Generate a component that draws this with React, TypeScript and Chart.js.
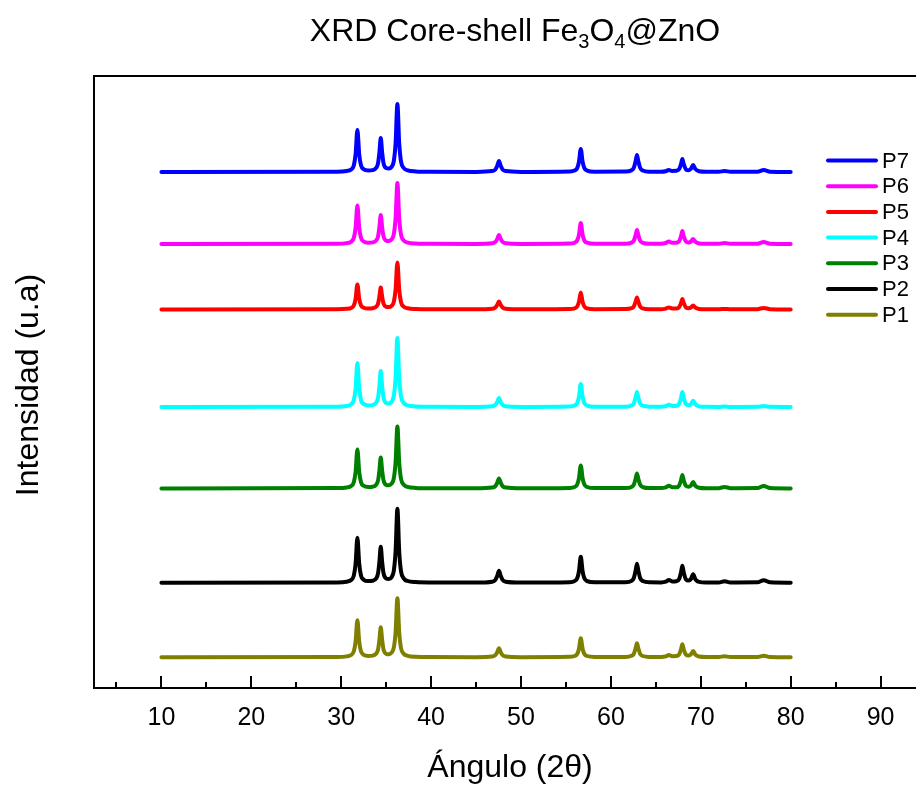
import React, { useEffect, useRef } from 'react';
import { Chart, registerables } from 'chart.js';

Chart.register(...registerables);

// ---- Data ----
// 2θ angles shared by every pattern
const angles = [
  10, 29.5, 30.6, 31.1, 31.4, 31.6, 31.8, 32.0, 32.2, 32.5,
  33.0, 33.5, 33.9, 34.1, 34.25, 34.4, 34.55, 34.7, 35.0, 35.3,
  35.6, 35.85, 36.05, 36.25, 36.45, 36.65, 36.95, 37.4, 38.3, 40,
  45, 46.8, 47.15, 47.35, 47.55, 47.75, 47.95, 48.3, 50,
  55.4, 55.95, 56.25, 56.45, 56.65, 56.85, 57.05, 57.35, 58.2,
  61.6, 62.3, 62.55, 62.75, 62.9, 63.05, 63.25, 63.55, 64.3,
  65.6, 66.1, 66.45, 66.8, 67.3, 67.6, 67.8, 67.95, 68.1, 68.35, 68.65, 68.9, 69.15, 69.4, 69.8, 70.6,
  72.0, 72.65, 73.3,
  76.3, 77.0, 77.7, 80,
];

// intensities above each pattern's own baseline (a.u.)
const p1 = [
  0, 0.3, 0.85, 2.2, 5.9, 15.7, 37, 15.7, 6.0, 2.4,
  1.3, 1.6, 3.7, 7.9, 17.5, 30, 17.6, 8.1, 3.4, 3.0,
  4.5, 9.5, 25.1, 59, 25.0, 9.2, 3.5, 1.4, 0.45, 0.15,
  0.07, 0.7, 2.1, 4.9, 9, 4.9, 2.1, 0.7, 0.07,
  0.38, 1.2, 3.2, 8.5, 19, 8.5, 3.2, 1.2, 0.25,
  0.32, 1.4, 3.4, 9.0, 14, 9.0, 3.4, 1.2, 0.28,
  0.25, 0.8, 2.2, 1.0, 1.15, 2.9, 7.9, 13, 7.9, 2.55, 1.6, 2.8, 6.3, 2.5, 0.64, 0.15,
  0.18, 1, 0.18,
  0.23, 1.5, 0.23, 0,
];
const p2 = [
  0, 0.3, 1.0, 2.7, 7.1, 19.1, 45, 19.2, 7.2, 3.0,
  1.6, 2.0, 4.4, 9.5, 21.0, 36, 21.1, 9.8, 4.1, 3.6,
  5.5, 11.9, 31.5, 74, 31.3, 11.6, 4.3, 1.7, 0.6, 0.2,
  0.09, 0.95, 2.8, 6.6, 12, 6.6, 2.8, 0.95, 0.1,
  0.52, 1.6, 4.4, 11.6, 26, 11.6, 4.4, 1.6, 0.34,
  0.44, 1.9, 4.7, 12.2, 19, 12.2, 4.7, 1.65, 0.38,
  0.3, 1.0, 2.8, 1.3, 1.5, 3.8, 10.3, 17, 10.3, 3.3, 2.2, 3.7, 8.4, 3.4, 0.85, 0.2,
  0.27, 1.5, 0.27,
  0.39, 2.5, 0.39, 0,
];
const p3 = [
  0, 0.3, 0.9, 2.3, 6.2, 16.5, 39, 16.6, 6.3, 2.6,
  1.4, 1.7, 3.8, 8.1, 18.0, 31, 18.2, 8.4, 3.5, 3.1,
  4.7, 10.0, 26.4, 62, 26.3, 9.7, 3.7, 1.45, 0.5, 0.15,
  0.07, 0.8, 2.3, 5.5, 10, 5.5, 2.3, 0.8, 0.08,
  0.46, 1.4, 3.9, 10.3, 23, 10.3, 3.9, 1.4, 0.3,
  0.35, 1.5, 3.7, 9.6, 15, 9.6, 3.7, 1.3, 0.3,
  0.3, 1.0, 2.7, 1.2, 1.2, 3.0, 8.2, 13.5, 8.2, 2.6, 1.7, 2.8, 6.3, 2.5, 0.64, 0.15,
  0.27, 1.5, 0.27,
  0.39, 2.5, 0.39, 0,
];
const p4 = [
  0, 0.3, 1.0, 2.6, 6.9, 18.6, 44, 18.7, 7.0, 2.9,
  1.6, 1.9, 4.4, 9.4, 20.9, 36, 21.1, 9.7, 4.0, 3.5,
  5.2, 11.2, 29.4, 69, 29.2, 10.9, 4.1, 1.6, 0.55, 0.2,
  0.07, 0.7, 2.1, 4.9, 9, 4.9, 2.1, 0.7, 0.07,
  0.46, 1.4, 3.9, 10.3, 23, 10.3, 3.9, 1.4, 0.3,
  0.35, 1.5, 3.7, 9.6, 15, 9.6, 3.7, 1.3, 0.3,
  0.25, 0.8, 2.2, 1.1, 1.3, 3.3, 9.0, 15, 9.1, 2.9, 1.8, 2.9, 6.3, 2.6, 0.66, 0.15,
  0.09, 0.5, 0.09,
  0.15, 1, 0.15, 0,
];
const p5 = [
  0, 0.2, 0.6, 1.5, 3.9, 10.6, 25, 10.7, 4.0, 1.7,
  0.9, 1.2, 2.7, 5.8, 12.9, 22, 13.0, 6.0, 2.6, 2.3,
  3.5, 7.5, 20.0, 47, 19.9, 7.4, 2.7, 1.1, 0.36, 0.1,
  0.06, 0.6, 1.9, 4.4, 8, 4.4, 1.9, 0.6, 0.06,
  0.34, 1.05, 2.9, 7.6, 17, 7.6, 2.9, 1.05, 0.22,
  0.28, 1.2, 3.0, 7.7, 12, 7.7, 3.0, 1.0, 0.24,
  0.2, 0.8, 2, 1.0, 1.0, 2.35, 6.35, 10.5, 6.35, 2.0, 1.2, 1.9, 4, 1.7, 0.44, 0.1,
  0.09, 0.5, 0.09,
  0.23, 1.5, 0.23, 0,
];
const p6 = [
  0, 0.3, 0.9, 2.3, 6.1, 16.3, 38.5, 16.4, 6.2, 2.5,
  1.3, 1.6, 3.6, 7.6, 16.9, 29, 17.0, 7.9, 3.4, 3.0,
  4.6, 9.8, 26.0, 61, 25.8, 9.5, 3.6, 1.4, 0.5, 0.15,
  0.07, 0.7, 2.1, 4.9, 9, 4.9, 2.1, 0.7, 0.07,
  0.4, 1.3, 3.5, 9.4, 21, 9.4, 3.5, 1.3, 0.27,
  0.32, 1.4, 3.4, 9.0, 14, 9.0, 3.4, 1.2, 0.3,
  0.3, 1.0, 2.5, 1.2, 1.2, 2.9, 7.9, 13, 7.9, 2.5, 1.5, 2.4, 5, 2.15, 0.56, 0.15,
  0.18, 1, 0.18,
  0.3, 2, 0.3, 0,
];
const p7 = [
  0, 0.3, 1.0, 2.5, 6.6, 17.8, 42, 17.9, 6.7, 2.8,
  1.5, 1.9, 4.2, 8.9, 19.8, 34, 19.9, 9.2, 3.9, 3.4,
  5.1, 10.9, 28.9, 68, 28.8, 10.6, 4.0, 1.6, 0.55, 0.2,
  0.1, 0.9, 2.6, 6.0, 11, 6.0, 2.6, 0.9, 0.1,
  0.5, 1.4, 3.9, 10.3, 23, 10.3, 3.9, 1.4, 0.3,
  0.4, 1.7, 4.2, 10.9, 17, 10.9, 4.2, 1.5, 0.35,
  0.25, 0.8, 2.0, 1.05, 1.2, 2.9, 7.9, 13, 7.9, 2.6, 1.8, 3.2, 7, 2.9, 0.7, 0.2,
  0.18, 1, 0.18,
  0.3, 2, 0.3, 0,
];

const seriesNames = ['P1', 'P2', 'P3', 'P4', 'P5', 'P6', 'P7'];
const seriesColors = ['#808000', '#000000', '#008000', '#00FFFF', '#FF0000', '#FF00FF', '#0000FF'];
// vertical stacking offset of each pattern (a.u.)
const offsets = [30.8, 105.3, 199.6, 281, 378.6, 444, 516];

const xMajorTicks = [10, 20, 30, 40, 50, 60, 70, 80, 90];
const xMinorTicks = [5, 15, 25, 35, 45, 55, 65, 75, 85, 95];

const titleParts = [
  { text: 'XRD Core-shell Fe', sub: false },
  { text: '3', sub: true },
  { text: 'O', sub: false },
  { text: '4', sub: true },
  { text: '@ZnO', sub: false },
];
const xTitle = 'Ángulo (2θ)';
const yTitle = 'Intensidad (u.a)';

const FONT = '"Liberation Sans", Arial, Helvetica, sans-serif';

const decorPlugin = {
  id: 'decor',
  afterDraw(chart: any) {
    const { ctx, chartArea: a } = chart;
    const xs = chart.scales.x;
    ctx.save();
    ctx.strokeStyle = '#000';
    ctx.lineWidth = 2;
    ctx.lineCap = 'butt';
    // frame
    ctx.beginPath();
    ctx.moveTo(a.left, a.bottom);
    ctx.lineTo(a.right, a.bottom);
    ctx.lineTo(a.right, a.top);
    ctx.lineTo(a.left, a.top);
    ctx.closePath();
    ctx.stroke();
    // ticks (inward)
    ctx.beginPath();
    xMajorTicks.forEach((v) => {
      const px = Math.round(xs.getPixelForValue(v));
      ctx.moveTo(px, a.bottom);
      ctx.lineTo(px, a.bottom - 12);
    });
    xMinorTicks.forEach((v) => {
      const px = Math.round(xs.getPixelForValue(v));
      ctx.moveTo(px, a.bottom);
      ctx.lineTo(px, a.bottom - 6);
    });
    ctx.stroke();

    ctx.fillStyle = '#000';
    // tick labels
    ctx.font = `25px ${FONT}`;
    ctx.textAlign = 'center';
    ctx.textBaseline = 'alphabetic';
    xMajorTicks.forEach((v) => {
      ctx.fillText(String(v), xs.getPixelForValue(v), a.bottom + 37);
    });

    // x title
    ctx.font = `32px ${FONT}`;
    ctx.fillText(xTitle, 510, 777);

    // y title
    ctx.save();
    ctx.translate(29, 385);
    ctx.rotate(-Math.PI / 2);
    ctx.textBaseline = 'middle';
    ctx.fillText(yTitle, 0, 0);
    ctx.restore();

    // chart title with subscripts
    const mainFont = `32px ${FONT}`;
    const subFont = `20px ${FONT}`;
    let total = 0;
    titleParts.forEach((p) => {
      ctx.font = p.sub ? subFont : mainFont;
      total += ctx.measureText(p.text).width;
    });
    let tx = 515 - total / 2;
    ctx.textAlign = 'left';
    titleParts.forEach((p) => {
      ctx.font = p.sub ? subFont : mainFont;
      ctx.fillText(p.text, tx, p.sub ? 48 : 41);
      tx += ctx.measureText(p.text).width;
    });

    // legend (top to bottom: P7 ... P1)
    ctx.font = `22px ${FONT}`;
    ctx.textBaseline = 'middle';
    ctx.lineWidth = 4;
    ctx.lineCap = 'round';
    for (let k = 0; k < seriesNames.length; k++) {
      const i = seriesNames.length - 1 - k;
      const y = 160.5 + k * 25.7;
      ctx.strokeStyle = seriesColors[i];
      ctx.beginPath();
      ctx.moveTo(828, y);
      ctx.lineTo(876, y);
      ctx.stroke();
      ctx.fillText(seriesNames[i], 882, y + 1);
    }
    ctx.restore();
  },
};

export default function App() {
  const ref = useRef<HTMLCanvasElement>(null);
  useEffect(() => {
    const canvas = ref.current as HTMLCanvasElement;
    const seriesValues = [p1, p2, p3, p4, p5, p6, p7];
    const datasets = seriesNames.map((name, i) => ({
      label: name,
      data: angles.map((a, j) => ({ x: a, y: offsets[i] + seriesValues[i][j] })),
      borderColor: seriesColors[i],
      backgroundColor: seriesColors[i],
      borderWidth: 4,
      pointRadius: 0,
      fill: false,
      cubicInterpolationMode: 'monotone' as const,
      borderJoinStyle: 'round' as const,
      borderCapStyle: 'round' as const,
    }));
    const chart = new Chart(canvas, {
      type: 'line',
      data: { datasets },
      options: {
        animation: false,
        responsive: false,
        devicePixelRatio: 1,
        events: [],
        layout: { padding: { left: 94, top: 76, right: 12, bottom: 97 } },
        scales: {
          x: { type: 'linear', min: 2.5, max: 97.5, display: false },
          y: { type: 'linear', min: 0, max: 612, display: false },
        },
        plugins: {
          legend: { display: false },
          tooltip: { enabled: false },
          title: { display: false },
        },
      },
      plugins: [decorPlugin],
    });
    return () => chart.destroy();
  }, []);
  return (
    <div
      style={{
        position: 'fixed',
        left: 0,
        top: 0,
        width: 916,
        height: 785,
        overflow: 'hidden',
        background: '#fff',
      }}
    >
      <canvas ref={ref} width={960} height={785} style={{ display: 'block', width: 960, height: 785 }} />
    </div>
  );
}
